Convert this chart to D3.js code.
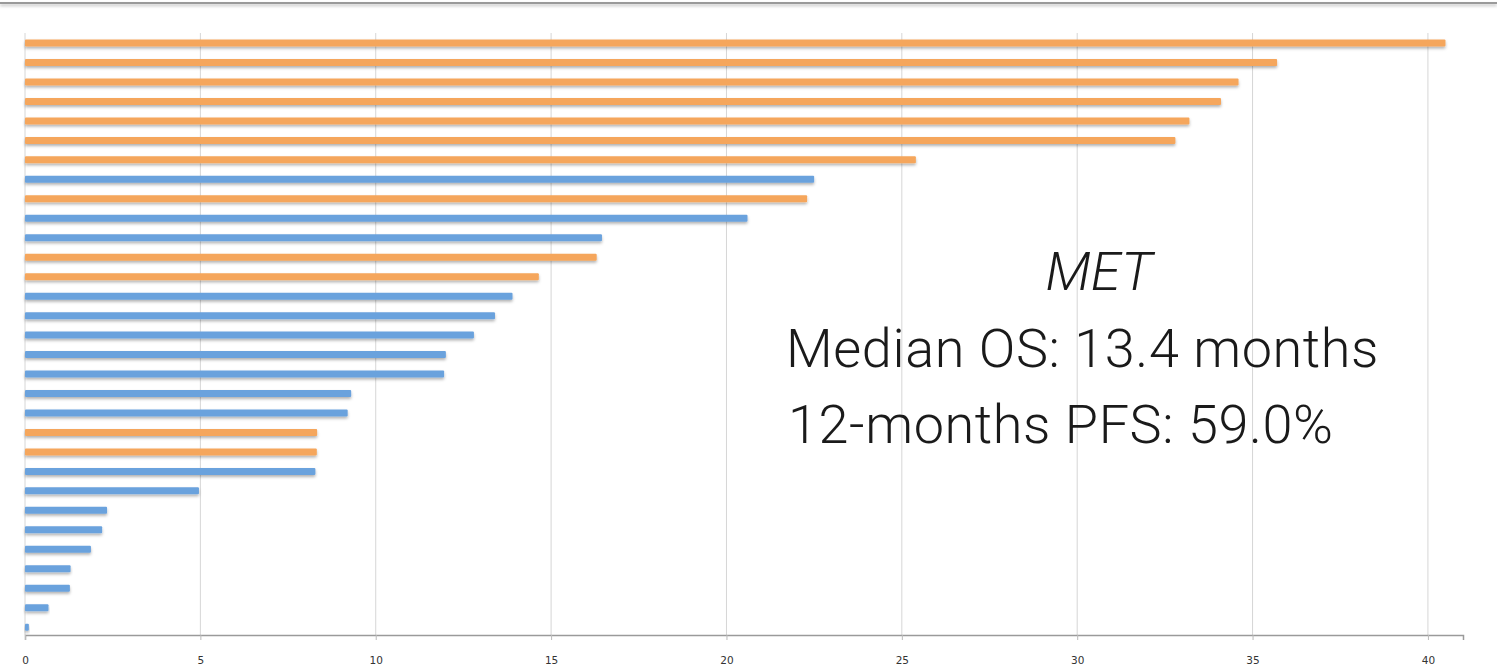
<!DOCTYPE html>
<html lang="en">
<head>
    <meta charset="UTF-8">
    <title>MET survival bars</title>
    <script src="https://d3js.org/d3.v7.min.js"></script>
    <style>
        body {
            margin: 0;
            background: #ffffff;
            overflow: hidden;
        }
        .tick text {
            font-family: 'DejaVu Sans', sans-serif;
            font-size: 10.5px;
            fill: #333;
        }
        .note {
            font-family: 'Roboto', 'Liberation Sans', sans-serif;
            font-weight: 300;
            fill: #1a1a1a;
        }
    </style>
</head>
<body>
    <div id="chart"></div>

    <script>
        // months, one bar per patient, top to bottom
        const values = [40.5, 35.7, 34.6, 34.1, 33.2, 32.8, 25.4, 22.5, 22.3, 20.6,
                        16.45, 16.3, 14.65, 13.9, 13.4, 12.8, 12.0, 11.95, 9.3, 9.2,
                        8.33, 8.32, 8.28, 4.96, 2.34, 2.2, 1.88, 1.3, 1.28, 0.67, 0.11];
        // "o" = orange, "b" = blue
        const groups = ["o", "o", "o", "o", "o", "o", "o", "b", "o", "b",
                        "b", "o", "o", "b", "b", "b", "b", "b", "b", "b",
                        "o", "o", "b", "b", "b", "b", "b", "b", "b", "b", "b"];
        const xTicks = [0, 5, 10, 15, 20, 25, 30, 35, 40];
        const notes = ["MET", "Median OS: 13.4 months", "12-months PFS: 59.0%"];

        const width = 1497;
        const height = 668;

        const svg = d3.select("#chart")
            .append("svg")
            .attr("width", width)
            .attr("height", height);

        const defs = svg.append("defs");
        const shadow = defs.append("filter")
            .attr("id", "shadow")
            .attr("x", "-5%").attr("y", "-100%")
            .attr("width", "110%").attr("height", "300%");
        shadow.append("feDropShadow")
            .attr("dx", 0).attr("dy", 2)
            .attr("stdDeviation", 1.4)
            .attr("flood-color", "#000")
            .attr("flood-opacity", 0.3);

        const topShadow = defs.append("filter")
            .attr("id", "topShadow")
            .attr("filterUnits", "userSpaceOnUse")
            .attr("x", 0).attr("y", 0)
            .attr("width", width).attr("height", 14);
        topShadow.append("feDropShadow")
            .attr("dx", 0).attr("dy", 2)
            .attr("stdDeviation", 1.5)
            .attr("flood-color", "#000")
            .attr("flood-opacity", 0.25);

        // window border at the top
        svg.append("rect")
            .attr("x", 0).attr("y", 2)
            .attr("width", width).attr("height", 2)
            .attr("fill", "#9a9a9a")
            .attr("filter", "url(#topShadow)");

        const x = d3.scaleLinear()
            .domain([0, 41])
            .range([25, 1463]);

        const y = d3.scalePoint()
            .domain(d3.range(values.length))
            .range([33.3, 636.9])
            .padding(0.5);

        const axisY = 635;
        const gridTop = 33;

        // gridlines
        svg.append("g")
            .selectAll("line")
            .data(xTicks)
            .join("line")
            .attr("x1", d => x(d)).attr("x2", d => x(d))
            .attr("y1", gridTop).attr("y2", axisY)
            .attr("stroke", "#d6d6d6")
            .attr("stroke-width", 1);

        const color = { o: "#f5a65b", b: "#6ba2dd" };

        svg.append("g")
            .selectAll("rect")
            .data(values)
            .join("rect")
            .attr("x", x(0))
            .attr("y", (d, i) => y(i) - 3.5)
            .attr("width", d => x(d) - x(0))
            .attr("height", 7)
            .attr("rx", 1)
            .attr("fill", (d, i) => color[groups[i]])
            .attr("filter", "url(#shadow)");

        const xAxis = d3.axisBottom(x)
            .tickValues(xTicks)
            .tickSize(5)
            .tickPadding(17)
            .tickFormat(d3.format("d"));

        const gx = svg.append("g")
            .attr("transform", `translate(0,${axisY})`)
            .call(xAxis);
        gx.select(".domain")
            .attr("stroke", "#9a9a9a")
            .attr("stroke-width", 1.5);
        gx.selectAll(".tick line")
            .attr("stroke", "#bbbbbb");

        // annotation text
        svg.append("text")
            .attr("class", "note")
            .attr("x", 1099)
            .attr("y", 290)
            .attr("text-anchor", "middle")
            .attr("font-size", 54)
            .attr("font-style", "italic")
            .text(notes[0]);

        svg.append("text")
            .attr("class", "note")
            .attr("x", 786)
            .attr("y", 367)
            .attr("font-size", 54)
            .attr("letter-spacing", 0.6)
            .text(notes[1]);

        svg.append("text")
            .attr("class", "note")
            .attr("x", 788)
            .attr("y", 443)
            .attr("font-size", 54)
            .attr("letter-spacing", 0.6)
            .text(notes[2]);
    </script>
</body>
</html>
